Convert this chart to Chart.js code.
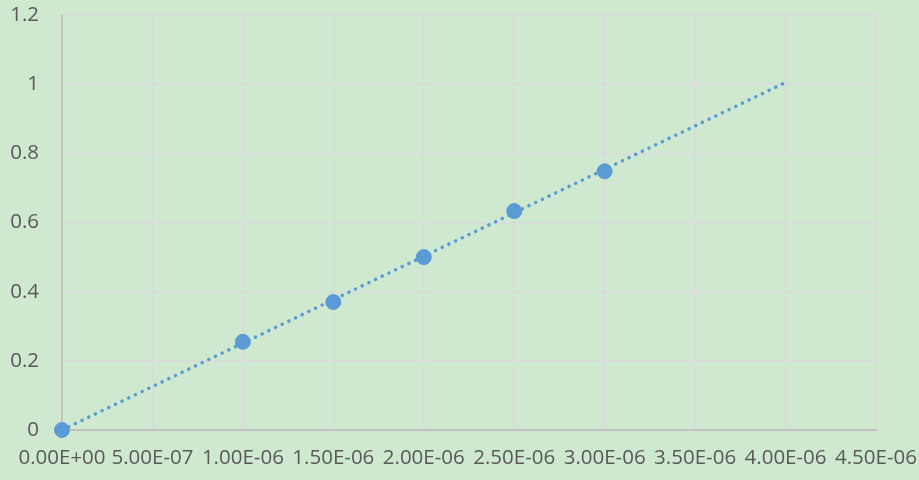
<!DOCTYPE html>
<html>
<head>
<meta charset="utf-8">
<script src="https://cdn.jsdelivr.net/npm/chart.js@4"></script>
<style>
  html, body { margin: 0; padding: 0; background: #cfe8d0; }
  #wrap { width: 919px; height: 480px; }
</style>
</head>
<body>
<div id="wrap"><canvas id="chart"></canvas></div>
<script>
// measured points
const xValues = [0, 1.0e-6, 1.5e-6, 2.0e-6, 2.5e-6, 3.0e-6];
const yValues = [0, 0.255, 0.37, 0.5, 0.633, 0.748];

// linear trendline end points (as drawn)
const trendX = [0, 4.0e-6];
const trendY = [0.0, 1.005];

// axis ticks
const xTickValues = [0, 5e-7, 1e-6, 1.5e-6, 2e-6, 2.5e-6, 3e-6, 3.5e-6, 4e-6, 4.5e-6];
const xTickLabels = ['0.00E+00', '5.00E-07', '1.00E-06', '1.50E-06', '2.00E-06',
                     '2.50E-06', '3.00E-06', '3.50E-06', '4.00E-06', '4.50E-06'];
const yTickValues = [0, 0.2, 0.4, 0.6, 0.8, 1, 1.2];
const yTickLabels = ['0', '0.2', '0.4', '0.6', '0.8', '1', '1.2'];

const blue = '#5b9bd5';
const textColor = '#595959';
const gridColor = '#dadada';

Chart.defaults.font.family = "'Open Sans', sans-serif";
Chart.defaults.font.size = 20.5;
Chart.defaults.color = textColor;

const ctx = document.getElementById('chart');
new Chart(ctx, {
    type: 'scatter',
    data: {
        datasets: [
            {
                label: 'trend',
                type: 'line',
                data: trendX.map((x, i) => ({ x: x, y: trendY[i] })),
                borderColor: blue,
                borderWidth: 3.5,
                borderDash: [0.1, 7.3],
                borderCapStyle: 'round',
                pointRadius: 0,
                fill: false,
                clip: false,
                order: 2
            },
            {
                label: 'data',
                data: xValues.map((x, i) => ({ x: x, y: yValues[i] })),
                backgroundColor: blue,
                borderColor: blue,
                pointRadius: 7.5,
                pointHoverRadius: 7.5,
                clip: false,
                order: 1
            }
        ]
    },
    options: {
        responsive: true,
        maintainAspectRatio: false,
        animation: false,
        layout: {
            padding: { top: 0, right: 43, bottom: 0, left: 0 }
        },
        plugins: {
            legend: { display: false },
            tooltip: { enabled: false }
        },
        scales: {
            x: {
                type: 'linear',
                min: 0,
                max: 4.5e-6,
                afterBuildTicks: (axis) => {
                    axis.ticks = xTickValues.map(v => ({ value: v }));
                },
                afterFit: (axis) => {
                    axis.height = 50;
                    axis.paddingLeft = 0;
                    axis.paddingRight = 0;
                },
                ticks: {
                    autoSkip: false,
                    maxRotation: 0,
                    minRotation: 0,
                    padding: 16,
                    callback: (value, index) => xTickLabels[index]
                },
                grid: {
                    color: gridColor,
                    lineWidth: 1.6,
                    drawTicks: false
                },
                border: { display: true, color: '#bfbfbf', width: 2 }
            },
            y: {
                min: 0,
                max: 1.2,
                afterBuildTicks: (axis) => {
                    axis.ticks = yTickValues.map(v => ({ value: v }));
                },
                afterFit: (axis) => {
                    axis.width = 62;
                    axis.paddingTop = 15;
                    axis.paddingBottom = 0;
                },
                ticks: {
                    padding: 23,
                    callback: (value, index) => yTickLabels[index]
                },
                grid: {
                    color: gridColor,
                    lineWidth: 1.6,
                    drawTicks: false
                },
                border: { display: true, color: '#c4c4c4', width: 2 }
            }
        }
    }
});
</script>
</body>
</html>
